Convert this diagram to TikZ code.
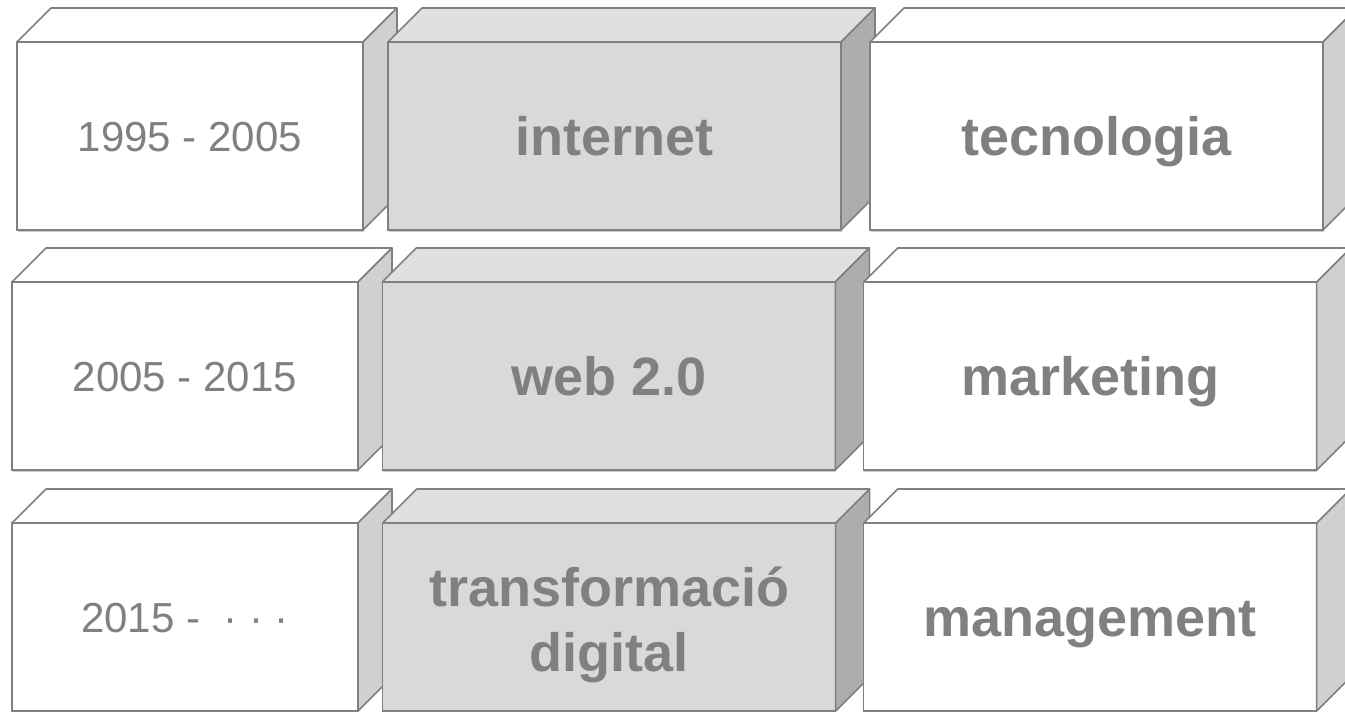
\documentclass[tikz,border=0pt]{standalone}
\usepackage{fontspec}
\setmainfont{Liberation Sans}
\usetikzlibrary{positioning,shadows}
\definecolor{edgegray}{HTML}{808080}
\definecolor{frontgray}{HTML}{D9D9D9}
\definecolor{topgray}{HTML}{E0E0E0}
\definecolor{sidegray}{HTML}{ADADAD}
\definecolor{sidewhite}{HTML}{D0D0D0}
\tikzstyle{cube}=[rectangle, draw=edgegray, line width=1.2pt, fill=white, inner sep=0pt, outer sep=0pt, minimum height=141pt, text=edgegray, align=center, drop shadow={shadow xshift=0.5pt, shadow yshift=-1.8pt, opacity=0.2, fill=black}]
\tikzstyle{yearbox}=[cube, minimum width=259.5pt, text height=22.6pt, text depth=0pt, font=\fontsize{31.5pt}{38pt}\selectfont]
\tikzstyle{themebox}=[cube, fill=frontgray, minimum width=339.75pt, text height=29pt, text depth=0pt, font=\fontsize{40.5pt}{48.5pt}\selectfont\bfseries]
\tikzstyle{fieldbox}=[themebox, fill=white]
\tikzstyle{face}=[draw=edgegray, line width=1.2pt, line join=round]
% top and right faces of a box
\newcommand{\cubeside}[3]{
 \draw[face, fill=#2] (#1.north west) -- ([shift={(25.5pt,25.5pt)}]#1.north west) -- ([shift={(25.5pt,25.5pt)}]#1.north east) -- (#1.north east) -- cycle;
 \draw[face, fill=#3] (#1.north east) -- ([shift={(25.5pt,25.5pt)}]#1.north east) -- ([shift={(25.5pt,25.5pt)}]#1.south east) -- (#1.south east) -- cycle;
}

\begin{document}
\begin{tikzpicture}[node distance=0mm]
\path[use as bounding box, fill=white] (0,0) rectangle (1008.75pt,-533.25pt);
\node (YR1) [yearbox, anchor=north west] at (12.75pt,-31.5pt) {1995 - 2005};
 \cubeside{YR1}{white}{sidewhite}
\node (NET) [themebox, right=18.75pt of YR1] {internet};
 \cubeside{NET}{topgray}{sidegray}
\node (TEC) [fieldbox, right=21.75pt of NET] {tecnologia};
 \cubeside{TEC}{white}{sidewhite}
\node (YR2) [yearbox, below=39pt of YR1, xshift=-3.75pt] {2005 - 2015};
 \cubeside{YR2}{white}{sidewhite}
\node (WEB) [themebox, right=18.25pt of YR2] {web 2.0};
 \cubeside{WEB}{topgray}{sidegray}
\node (MKT) [fieldbox, right=21.25pt of WEB] {marketing};
 \cubeside{MKT}{white}{sidewhite}
\node (YR3) [yearbox, below=39.75pt of YR2] {2015 -\ \ · · ·};
 \cubeside{YR3}{white}{sidewhite}
\node (TD) [themebox, text height=81.75pt, right=18.5pt of YR3] {transformació\\digital};
 \cubeside{TD}{topgray}{sidegray}
\node (MGT) [fieldbox, right=21pt of TD] {management};
 \cubeside{MGT}{white}{sidewhite}
\end{tikzpicture}
\end{document}
